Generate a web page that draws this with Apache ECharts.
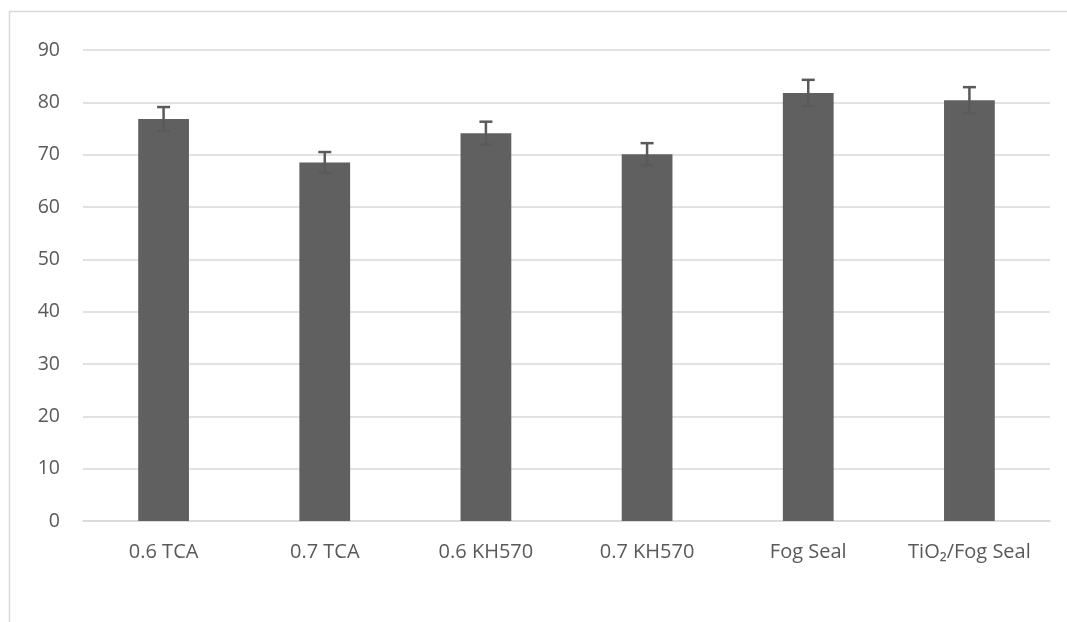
<!DOCTYPE html>
<html>
<head>
<meta charset="utf-8">
<script src="https://cdn.jsdelivr.net/npm/echarts@6/dist/echarts.min.js"></script>
<style>
html,body{margin:0;padding:0;background:#fff;}
#chart{width:1067px;height:622px;}
</style>
</head>
<body>
<div id="chart"></div>
<script>
const categories = ['0.6 TCA', '0.7 TCA', '0.6 KH570', '0.7 KH570', 'Fog Seal', 'TiO₂/Fog Seal'];
const values = [76.8, 68.5, 74.1, 70.1, 81.8, 80.4];
const errors = [2.3, 2.0, 2.2, 2.1, 2.5, 2.5];
const yTicks = [0, 10, 20, 30, 40, 50, 60, 70, 80, 90];

const chart = echarts.init(document.getElementById('chart'));
const font = '"Open Sans", "Noto Sans", sans-serif';
const errData = values.map((v, i) => [i, v - errors[i], v + errors[i]]);

chart.setOption({
  animation: false,
  backgroundColor: '#fff',
  graphic: [{
    type: 'polyline',
    shape: { points: [[9.5, 622], [9.5, 11.5], [1067, 11.5]] },
    style: { stroke: '#d9d9d9', lineWidth: 1.5, fill: null },
    silent: true
  }],
  grid: { left: 83, right: 17, top: 50, bottom: 101, containLabel: false },
  xAxis: {
    type: 'category',
    data: categories,
    axisLine: { show: true, lineStyle: { color: '#d9d9d9', width: 1.5 } },
    axisTick: { show: false },
    axisLabel: { color: '#595959', fontSize: 20, fontFamily: font, margin: 21, interval: 0 }
  },
  yAxis: {
    type: 'value',
    min: 0, max: 90, interval: 10,
    axisLine: { show: false },
    axisTick: { show: false },
    splitLine: { lineStyle: { color: '#d9d9d9', width: 1.5 } },
    axisLabel: { color: '#595959', fontSize: 19.5, fontFamily: font, margin: 23,
      formatter: v => yTicks.includes(v) ? String(v) : '' }
  },
  series: [{
    type: 'bar',
    data: values,
    barWidth: '31.5%',
    itemStyle: { color: '#606060' }
  }, {
    type: 'custom',
    data: errData,
    z: 10,
    renderItem: function (params, api) {
      const x = api.value(0);
      const lo = api.coord([x, api.value(1)]);
      const hi = api.coord([x, api.value(2)]);
      const half = 6.5;
      const style = { stroke: '#5a5a5a', lineWidth: 2.5 };
      return {
        type: 'group',
        children: [
          { type: 'line', shape: { x1: hi[0], y1: hi[1], x2: lo[0], y2: lo[1] }, style: style },
          { type: 'line', shape: { x1: hi[0] - half, y1: hi[1], x2: hi[0] + half, y2: hi[1] }, style: style },
          { type: 'line', shape: { x1: lo[0] - half, y1: lo[1], x2: lo[0] + half, y2: lo[1] }, style: style }
        ]
      };
    }
  }]
});
</script>
</body>
</html>
